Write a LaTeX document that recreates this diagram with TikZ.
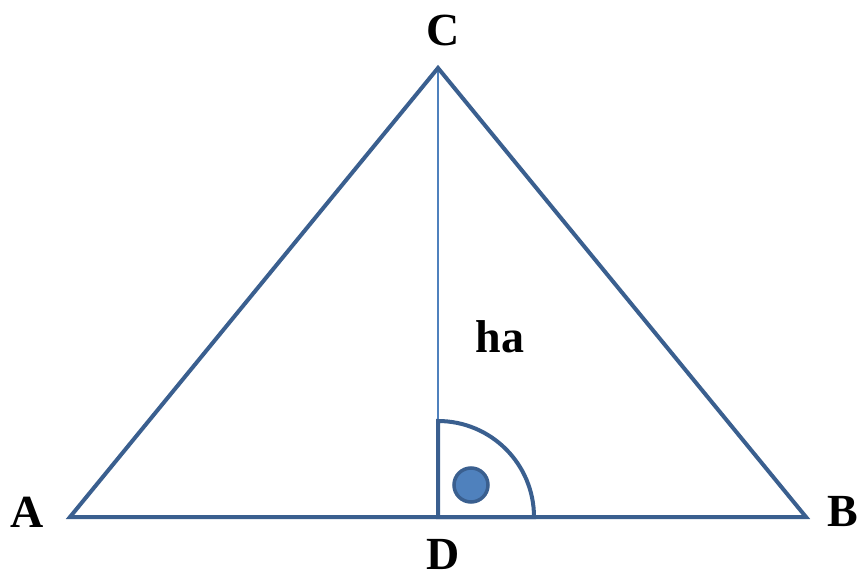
\documentclass[tikz,border=0pt]{standalone}
\usepackage{fontspec}
\setmainfont{Liberation Serif}
\begin{document}
\begin{tikzpicture}[x=1pt,y=-1pt,
  side/.style={draw=edgeblue,line width=4pt,line join=miter},
  lbl/.style={font=\fontsize{46}{46}\selectfont\bfseries,inner sep=0pt}]
\definecolor{edgeblue}{HTML}{3A5F8F}
\definecolor{fillblue}{HTML}{4F81BD}
\useasboundingbox (0,0) rectangle (859,575);
\coordinate (A) at (70,517);
\coordinate (B) at (806,517);
\coordinate (C) at (438,68);
\coordinate (D) at (438,517);
\draw[fillblue,line width=1.3pt] (C) -- (D);
\draw[side] (438,421) arc[start angle=-90,end angle=0,radius=96] -- (D) -- cycle;
\draw[side] (A) -- (B) -- (C) -- cycle;
\node[circle,minimum size=34pt,inner sep=0pt,fill=fillblue,draw=edgeblue,line width=3.5pt] (dot) at (471,485) {};
\node[lbl] (lC) at (443,30) {C};
\node[lbl] (lA) at (27,512) {A};
\node[lbl] (lB) at (843,512) {B};
\node[lbl] (lD) at (443,554) {D};
\node[lbl] (lh) at (500,337) {ha};
\end{tikzpicture}
\end{document}
